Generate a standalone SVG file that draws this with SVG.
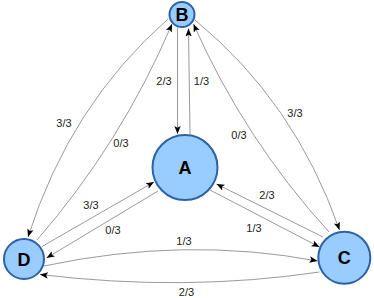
<svg xmlns="http://www.w3.org/2000/svg" width="374" height="298" viewBox="0 0 374 298">
<style>
.e{fill:none;stroke:#9a9a9a;stroke-width:1;marker-end:url(#arr)}
.n{fill:#99ccff;stroke:#2d62a6;stroke-width:2}
.nt{font-family:"Liberation Sans",Arial,sans-serif;font-weight:bold;font-size:18px;fill:#000;text-anchor:middle}
.lb{font-family:"Liberation Sans",Arial,sans-serif;font-size:11px;fill:#222;text-anchor:middle}
</style>
<defs>
<marker id="arr" markerUnits="userSpaceOnUse" markerWidth="10" markerHeight="10" viewBox="0 0 10 10" refX="8" refY="4" orient="auto">
<path d="M0,0.8 L8,4 L0,7.2 L1.8,4 z" fill="#000"/>
</marker>
</defs>
<g id="connectors">
<path class="e" d="M177.5,28 L177.5,134"/>
<path class="e" d="M190,134 L188.5,28.5"/>
<path class="e" d="M168,19 Q70,105 28,237"/>
<path class="e" d="M37,240 Q121.5,142.6 172,24"/>
<path class="e" d="M195,20 Q295,102 339.5,230"/>
<path class="e" d="M329,232 Q244,138.6 193.5,24"/>
<path class="e" d="M210,190 L319.5,247"/>
<path class="e" d="M323,237 L216.5,184"/>
<path class="e" d="M42,246.5 L154,182"/>
<path class="e" d="M158,191 L46.5,258"/>
<path class="e" d="M44,266 Q185,236 317.5,261"/>
<path class="e" d="M319.5,272 Q185,292 40,274.5"/>
</g>
<g id="labels">
<text class="lb" x="164" y="84.5">2/3</text>
<text class="lb" x="201.5" y="84.5">1/3</text>
<text class="lb" x="64" y="126.5">3/3</text>
<text class="lb" x="121" y="146.5">0/3</text>
<text class="lb" x="295" y="116.5">3/3</text>
<text class="lb" x="239" y="139">0/3</text>
<text class="lb" x="267" y="199">2/3</text>
<text class="lb" x="254" y="231.5">1/3</text>
<text class="lb" x="91" y="209">3/3</text>
<text class="lb" x="113" y="234">0/3</text>
<text class="lb" x="184" y="245">1/3</text>
<text class="lb" x="186.5" y="296">2/3</text>
</g>
<g id="node-B">
<circle class="n" cx="182" cy="14.5" r="12.5"/>
<text class="nt" x="182" y="21">B</text>
</g>
<g id="node-A">
<circle class="n" cx="185" cy="167.5" r="32.5"/>
<text class="nt" x="185" y="174">A</text>
</g>
<g id="node-D">
<circle class="n" cx="24" cy="259" r="20"/>
<text class="nt" x="24" y="265.5">D</text>
</g>
<g id="node-C">
<circle class="n" cx="344.3" cy="257.7" r="26"/>
<text class="nt" x="344.3" y="264.2">C</text>
</g>
</svg>
